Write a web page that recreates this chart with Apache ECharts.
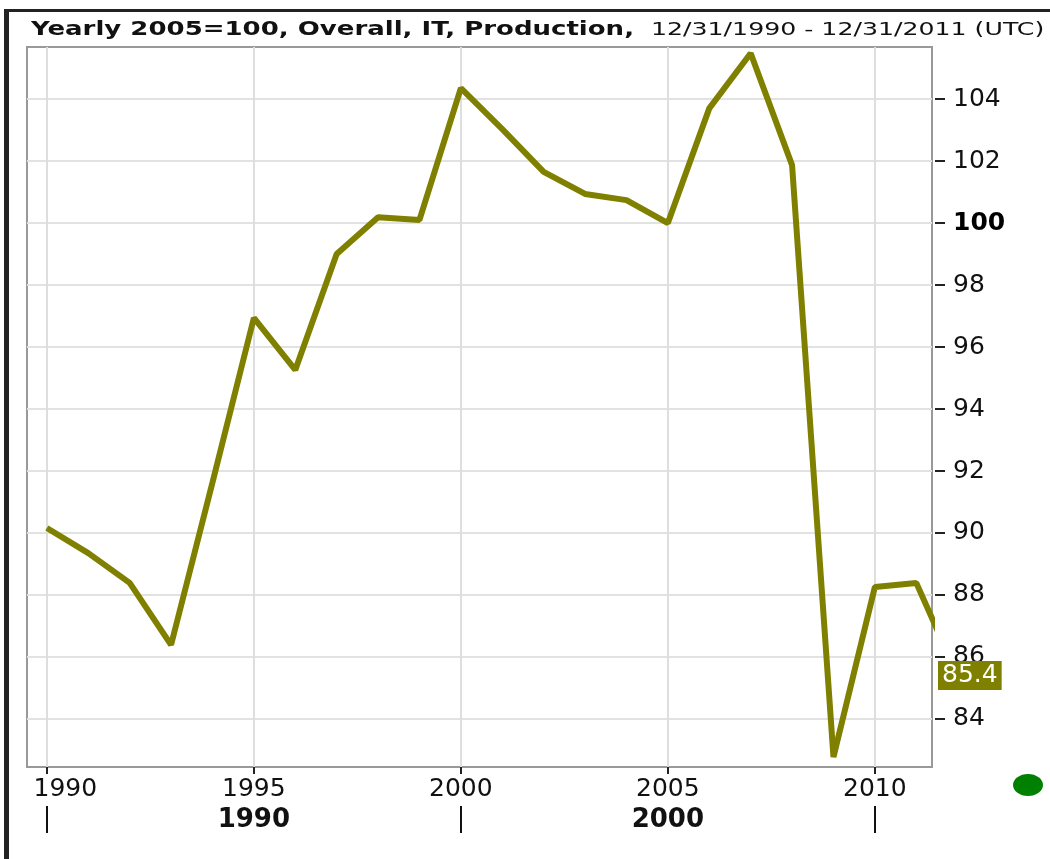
<!DOCTYPE html>
<html>
<head>
<meta charset="utf-8">
<script src="https://cdn.jsdelivr.net/npm/echarts@6/dist/echarts.min.js"></script>
<style>
  html, body { margin: 0; padding: 0; background: #fff; }
  #chart { width: 1050px; height: 859px; }
</style>
</head>
<body>
<div id="chart"></div>
<script>
// 資料
const years = [1990, 1991, 1992, 1993, 1994, 1995, 1996, 1997, 1998, 1999, 2000,
  2001, 2002, 2003, 2004, 2005, 2006, 2007, 2008, 2009, 2010, 2011, 2012];
const values = [90.16, 89.35, 88.39, 86.39, 91.63, 96.94, 95.26, 99.0, 100.19, 100.1, 104.35,
  103.03, 101.65, 100.94, 100.74, 100.0, 103.7, 105.48, 101.87, 82.77, 88.26, 88.39, 85.4];
const lastValue = 85.4;

const yearTicks = [1990, 1995, 2000, 2005, 2010];
const decadeTicks = [1990, 2000, 2010];
const decadeLabelPos = [1995, 2005];
const valueTicks = [84, 86, 88, 90, 92, 94, 96, 98, 100, 102, 104];

const titleMain = 'Yearly 2005=100, Overall, IT, Production,';
const titleRange = '12/31/1990 - 12/31/2011 (UTC)';

const font = 'DejaVu Sans';
const olive = '#808000';

const chart = echarts.init(document.getElementById('chart'));

const option = {
  animation: false,
  backgroundColor: '#fff',
  grid: {
    left: 27,
    right: 118,
    top: 47,
    bottom: 92,
    show: true,
    backgroundColor: '#fff',
    borderColor: '#999',
    borderWidth: 2,
  },
  xAxis: [
    {
      type: 'value',
      min: 1989.52,
      max: 2011.38,
      position: 'bottom',
      axisLine: { show: false },
      axisTick: {
        customValues: yearTicks,
        length: 7,
        lineStyle: { color: '#222', width: 2 },
      },
      axisLabel: {
        customValues: yearTicks,
        margin: 10,
        fontFamily: font,
        fontSize: 25,
        color: '#111',
        // 第一個標籤往右推，不超出繪圖區左緣
        formatter: v => (v === yearTicks[0] ? '{first|' + v + '}' : String(v)),
        rich: {
          first: { fontFamily: font, fontSize: 25, color: '#111', padding: [0, 0, 0, 37] },
        },
      },
      splitLine: { show: true, lineStyle: { color: '#dedede', width: 2 } },
    },
    {
      type: 'value',
      min: 1989.52,
      max: 2011.38,
      position: 'bottom',
      offset: 39,
      axisLine: { show: false },
      axisTick: {
        customValues: decadeTicks,
        length: 27,
        lineStyle: { color: '#111', width: 2 },
      },
      axisLabel: {
        customValues: decadeLabelPos,
        margin: 1,
        fontFamily: font,
        fontWeight: 'bold',
        fontSize: 26,
        color: '#111',
        formatter: v => String(v - 5),
      },
      splitLine: { show: false },
    },
  ],
  yAxis: {
    type: 'value',
    position: 'right',
    offset: 3,
    min: 82.45,
    max: 105.68,
    axisLine: { show: false },
    axisTick: {
      customValues: valueTicks,
      inside: false,
      length: 10,
      lineStyle: { color: '#222', width: 2 },
    },
    axisLabel: {
      customValues: valueTicks,
      margin: 18,
      fontFamily: font,
      fontSize: 25,
      color: '#111',
      formatter: v => (v === 100 ? '{b|100}' : String(v)),
      rich: {
        b: { fontFamily: font, fontSize: 25, fontWeight: 'bold', color: '#000' },
      },
    },
    splitLine: { show: true, lineStyle: { color: '#e2e2e2', width: 2 } },
  },
  series: [
    {
      type: 'line',
      data: years.map((y, i) => [y, values[i]]),
      showSymbol: false,
      clip: true,
      lineStyle: { color: olive, width: 6 },
      itemStyle: { color: olive },
    },
    {
      // 最新值標籤（不裁切）
      type: 'line',
      data: [[years[years.length - 1], lastValue]],
      showSymbol: false,
      clip: false,
      lineStyle: { width: 0, opacity: 0 },
      markLine: {
        silent: true,
        symbol: 'none',
        lineStyle: { color: 'rgba(0,0,0,0)', width: 0 },
        data: [{ yAxis: lastValue }],
        label: {
          position: 'end',
          distance: 6,
          formatter: String(lastValue),
          fontFamily: font,
          fontSize: 25,
          color: '#fff',
          backgroundColor: olive,
          padding: [2, 4],
        },
      },
    },
  ],
  graphic: [
    // 標題（原圖橫向拉伸）
    {
      type: 'text',
      x: 31, y: 20,
      scaleX: 1.3,
      style: { text: titleMain, fontFamily: font, fontWeight: 'bold', fontSize: 20, fill: '#111' },
    },
    {
      type: 'text',
      x: 651, y: 21,
      scaleX: 1.4,
      style: { text: titleRange, fontFamily: font, fontSize: 18, fill: '#111' },
    },
    // 外框
    { type: 'rect', shape: { x: 4, y: 9, width: 1046, height: 3 }, style: { fill: '#222' } },
    { type: 'rect', shape: { x: 4, y: 9, width: 5, height: 850 }, style: { fill: '#222' } },
    // 綠色狀態點
    { type: 'ellipse', shape: { cx: 1028, cy: 785, rx: 15, ry: 11 }, style: { fill: '#008000' } },
  ],
};

chart.setOption(option);
window.addEventListener('resize', () => chart.resize());
</script>
</body>
</html>
